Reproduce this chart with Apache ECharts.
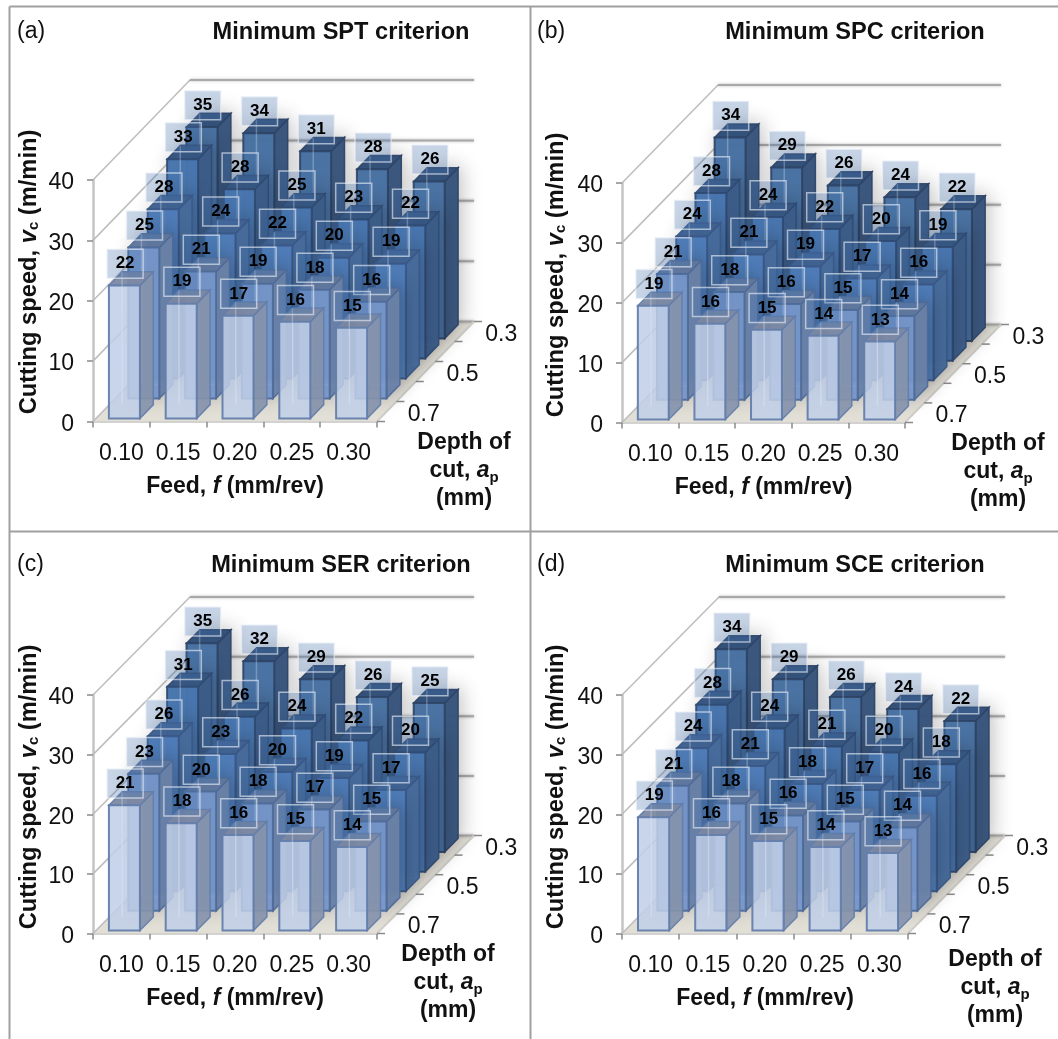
<!DOCTYPE html>
<html><head><meta charset="utf-8">
<style>html,body{margin:0;padding:0;background:#fff}#c{width:1058px;height:1039px}</style>
<script src="https://cdn.jsdelivr.net/npm/echarts@6/dist/echarts.min.js"></script>
</head><body><div id="c"></div>
<script>
const feedLabels = ['0.10','0.15','0.20','0.25','0.30'];
const depthLabels = ['0.7','0.6','0.5','0.4','0.3'];
const speedTicks = [0,10,20,30,40];
// rows run front (0.7 mm) to back (0.3 mm), columns follow feedLabels
const sptValues = [[22,19,17,16,15],[25,21,19,18,16],[28,24,22,20,19],[33,28,25,23,22],[35,34,31,28,26]];
const spcValues = [[19,16,15,14,13],[21,18,16,15,14],[24,21,19,17,16],[28,24,22,20,19],[34,29,26,24,22]];
const serValues = [[21,18,16,15,14],[23,20,18,17,15],[26,23,20,19,17],[31,26,24,22,20],[35,32,29,26,25]];
const sceValues = [[19,16,15,14,13],[21,18,16,15,14],[24,21,18,17,16],[28,24,21,20,18],[34,29,26,24,22]];

const FONT = '"Liberation Sans", Arial, sans-serif';
const INK = '#111';
const BAR_W = 0.546, BAR_D = 0.69;
const ROWS = [
  {front:'rgba(192,206,230,0.86)', side:'rgba(134,146,170,0.92)', top:'rgba(124,136,162,0.95)', line:'rgba(100,126,172,0.95)'},
  {front:'rgba(122,154,206,0.90)', side:'rgba(108,130,168,0.95)', top:'rgba(98,120,158,0.95)',  line:'rgba(78,106,152,0.9)'},
  {front:'rgba(80,126,186,0.95)',  side:'rgba(70,106,154,0.97)',  top:'rgba(64,98,146,0.97)',   line:'rgba(58,88,134,0.9)'},
  {front:'rgba(72,118,174,0.97)',  side:'rgba(60,92,136,0.98)',   top:'rgba(54,86,130,0.98)',   line:'rgba(48,74,114,0.9)'},
  {front:'rgba(72,114,162,0.97)',  side:'rgba(58,86,124,0.98)',   top:'rgba(50,80,120,0.98)',   line:'rgba(46,68,102,0.9)'}
];
const panels = [
  {tag:'(a)', title:'Minimum SPT criterion', values:sptValues, left:93,  right:377, y0:421.5, y40:180, dx:97, dy:100, tagX:17,  titleX:341, titleY:32,  nameX:29,  nameY:272, depthX:464, depthY:471},
  {tag:'(b)', title:'Minimum SPC criterion', values:spcValues, left:622, right:905, y0:422.5, y40:183, dx:96, dy:98,  tagX:537, titleX:855, titleY:32,  nameX:556, nameY:275, depthX:998, depthY:472},
  {tag:'(c)', title:'Minimum SER criterion', values:serValues, left:93,  right:377, y0:933.5, y40:695, dx:97, dy:98,  tagX:17,  titleX:341, titleY:565, nameX:29,  nameY:787, depthX:448, depthY:983},
  {tag:'(d)', title:'Minimum SCE criterion', values:sceValues, left:622, right:908, y0:933.5, y40:695, dx:97, dy:98,  tagX:537, titleX:855, titleY:565, nameX:556, nameY:787, depthX:995, depthY:988}
];

const grids=[], xAxes=[], yAxes=[], series=[], graphics=[];

function projector(api, p){
  const sx = (p.dx/(p.right-p.left))*5/5;   // x units per depth row
  const sy = (p.dy/(p.y0-p.y40))*40/5;      // value units per depth row
  return (x,v,d)=>api.coord([x+d*sx, v+d*sy]);
}
const poly=(pts,fill,stroke,lw)=>({type:'polygon',shape:{points:pts},style:{fill,stroke:stroke||null,lineWidth:lw||0}});
const seg=(a,b,col,w,blur)=>({type:'line',shape:{x1:a[0],y1:a[1],x2:b[0],y2:b[1]},style:{stroke:col,lineWidth:w,shadowBlur:blur||0,shadowColor:'rgba(0,0,0,0.3)'}});

panels.forEach((p,i)=>{
  grids.push({left:p.left, top:p.y40, width:p.right-p.left, height:p.y0-p.y40, containLabel:false});
  xAxes.push({gridIndex:i, type:'category', data:feedLabels, position:'bottom',
    axisTick:{show:true,alignWithLabel:false,length:6,lineStyle:{color:'#8a8a8a',width:1.5}},
    axisLine:{show:true,lineStyle:{color:'#c4c4c4',width:2.5}},
    axisLabel:{fontFamily:FONT,fontSize:23,color:INK,margin:21,interval:0},
    name:'{b|Feed, }{i|f}{b| (mm/rev)}', nameLocation:'middle', nameGap:54,
    nameTextStyle:{rich:{b:{fontFamily:FONT,fontSize:23,fontWeight:'bold',color:INK},i:{fontFamily:FONT,fontSize:23,fontWeight:'bold',fontStyle:'italic',color:INK}}}
  });
  xAxes.push({gridIndex:i, type:'value', min:0, max:5, show:false});
  yAxes.push({gridIndex:i, type:'value', min:0, max:40, interval:10, 
    axisLine:{show:true,lineStyle:{color:'#c4c4c4',width:2.5}},
    axisTick:{show:true,length:6,lineStyle:{color:'#8a8a8a',width:1.5}},
    splitLine:{show:false},
    axisLabel:{fontFamily:FONT,fontSize:23,color:INK,margin:19,verticalAlign:'top',lineHeight:6}
  });
  const xIdx = i*2+1;

  // walls, floor, depth axis
  series.push({type:'custom', xAxisIndex:xIdx, yAxisIndex:i, silent:true, z:1, animation:false,
    encode:{x:0,y:1}, data:[[0,0]],
    renderItem:(params,api)=>{
      const P=projector(api,p), D=depthLabels.length, C=feedLabels.length, kids=[];
      kids.push(poly([P(0,0,0),P(C,0,0),P(C,0,D),P(0,0,D)],'#e2dfd7'));
      speedTicks.forEach(v=>{
        kids.push(seg(P(0,v,0),P(0,v,D),'#bdbdbd',1.5));
        kids.push(seg(P(0,v,D),P(C,v,D),'#a9a9a9',2,3));
      });
      kids.push(seg(P(C,0,0),P(C,0,D),'#d0cec8',2));
      for(let d=0;d<=D;d++){
        const a=P(C,0,d);
        kids.push(seg(a,[a[0]+8,a[1]],'#8a8a8a',1.5));
      }
      depthLabels.forEach((t,d)=>{
        if(d%2) return;
        const a=P(C,0,d+0.5);
        kids.push({type:'text',style:{text:t,x:a[0]+37,y:a[1]+3,align:'center',verticalAlign:'middle',fontFamily:FONT,fontSize:23,fill:INK}});
      });
      return {type:'group',children:kids};
    }
  });

  // bars, painted back row first
  const bars=[];
  for(let r=depthLabels.length-1;r>=0;r--) for(let c=0;c<feedLabels.length;c++) bars.push([c,r,p.values[r][c]]);
  series.push({type:'custom', xAxisIndex:xIdx, yAxisIndex:i, silent:true, z:3, animation:false,
    encode:{x:0,y:2}, data:bars,
    renderItem:(params,api)=>{
      const P=projector(api,p), c=api.value(0), r=api.value(1), v=api.value(2), s=ROWS[r];
      const x0=c+(1-BAR_W)/2, x1=x0+BAR_W, d0=r+(1-BAR_D)/2, d1=d0+BAR_D;
      const f00=P(x0,0,d0), f10=P(x1,0,d0), f11=P(x1,v,d0), f01=P(x0,v,d0);
      const b10=P(x1,0,d1), b11=P(x1,v,d1), b01=P(x0,v,d1), b00=P(x0,0,d1);
      const kids=[];
      if(r>0){
        const sh=poly([f00,f10,b10,b11,b01,f01],'rgba(60,90,130,0.55)');
        sh.style.shadowBlur=20; sh.style.shadowColor='rgba(0,0,0,0.45)'; sh.style.shadowOffsetX=4; sh.style.shadowOffsetY=-2;
        kids.push(sh);
      }
      kids.push(seg(b00,b01,'rgba(225,235,250,0.45)',1.5));
      kids.push(seg(b00,b10,'rgba(225,235,250,0.45)',1.5));
      kids.push(seg(b00,f00,'rgba(225,235,250,0.45)',1.5));
      kids.push(poly([f10,b10,b11,f11],s.side,s.line,1.5));
      kids.push(poly([f01,f11,b11,b01],s.top,s.line,1.5));
      kids.push(poly([f00,f10,f11,f01],s.front,s.line,2));
      kids.push(seg(P(x0,0,d1),P(x0,v,d0+BAR_D*0.98),'rgba(235,242,255,0.28)',1.5));
      return {type:'group',children:kids};
    }
  });

  // value labels sit on top of everything
  series.push({type:'custom', xAxisIndex:xIdx, yAxisIndex:i, silent:true, z:5, animation:false,
    encode:{x:0,y:2}, data:bars,
    renderItem:(params,api)=>{
      const P=projector(api,p), c=api.value(0), r=api.value(1), v=api.value(2);
      const a=P(c+0.5,v,r+0.5), cx=a[0]-6, cy=a[1]-15;
      return {type:'group',children:[
        {type:'rect',shape:{x:cx-18,y:cy-14.5,width:36,height:29},style:{fill:'rgba(70,115,175,0.30)',stroke:'rgba(235,240,248,0.62)',lineWidth:1.5}},
        {type:'text',style:{text:String(v),x:cx,y:cy,align:'center',verticalAlign:'middle',fontFamily:FONT,fontSize:17,fontWeight:'bold',fill:'#000'}}
      ]};
    }
  });

  const bold={fontFamily:FONT,fontSize:23,fontWeight:'bold',fill:INK};
  const boldY=Object.assign({},bold,{fontSize:23.7});
  graphics.push({type:'text',z:10,x:p.tagX,y:p.titleY,style:{text:p.tag,fontFamily:FONT,fontSize:23,fill:INK,align:'left',verticalAlign:'middle'}});
  graphics.push({type:'text',z:10,x:p.titleX,y:p.titleY,style:{text:p.title,fontFamily:FONT,fontSize:23.6,fontWeight:'bold',fill:INK,align:'center',verticalAlign:'middle'}});
  graphics.push({type:'text',z:10,x:p.nameX,y:p.nameY,rotation:Math.PI/2,
    style:{text:'{b|Cutting speed, }{i|v}{s|c}{b| (m/min)}',align:'center',verticalAlign:'middle',
      rich:{b:Object.assign({},boldY),i:Object.assign({},boldY,{fontStyle:'italic'}),s:Object.assign({},boldY,{fontSize:15,verticalAlign:'bottom'})}}});
  graphics.push({type:'text',z:10,x:p.depthX,y:p.depthY,
    style:{text:'{b|Depth of}\n{b|cut, }{i|a}{s|p}\n{b|(mm)}',align:'center',verticalAlign:'middle',lineHeight:28,
      rich:{b:Object.assign({},bold,{lineHeight:28}),i:Object.assign({},bold,{fontStyle:'italic',lineHeight:28}),s:Object.assign({},bold,{fontSize:15,lineHeight:28,verticalAlign:'bottom'})}}});
});

// outer frame and panel dividers
const frame=(x1,y1,x2,y2)=>({type:'line',z:0,shape:{x1,y1,x2,y2},style:{stroke:'#a0a0a0',lineWidth:2}});
graphics.push(frame(9.5,6.5,1058,6.5),frame(9.5,6.5,9.5,1039),frame(530.5,6.5,530.5,1039),frame(9.5,531.5,1058,531.5));

const chart=echarts.init(document.getElementById('c'),null,{renderer:'canvas'});
chart.setOption({animation:false,backgroundColor:'#fff',grid:grids,xAxis:xAxes,yAxis:yAxes,series,graphic:graphics});
</script></body></html>
